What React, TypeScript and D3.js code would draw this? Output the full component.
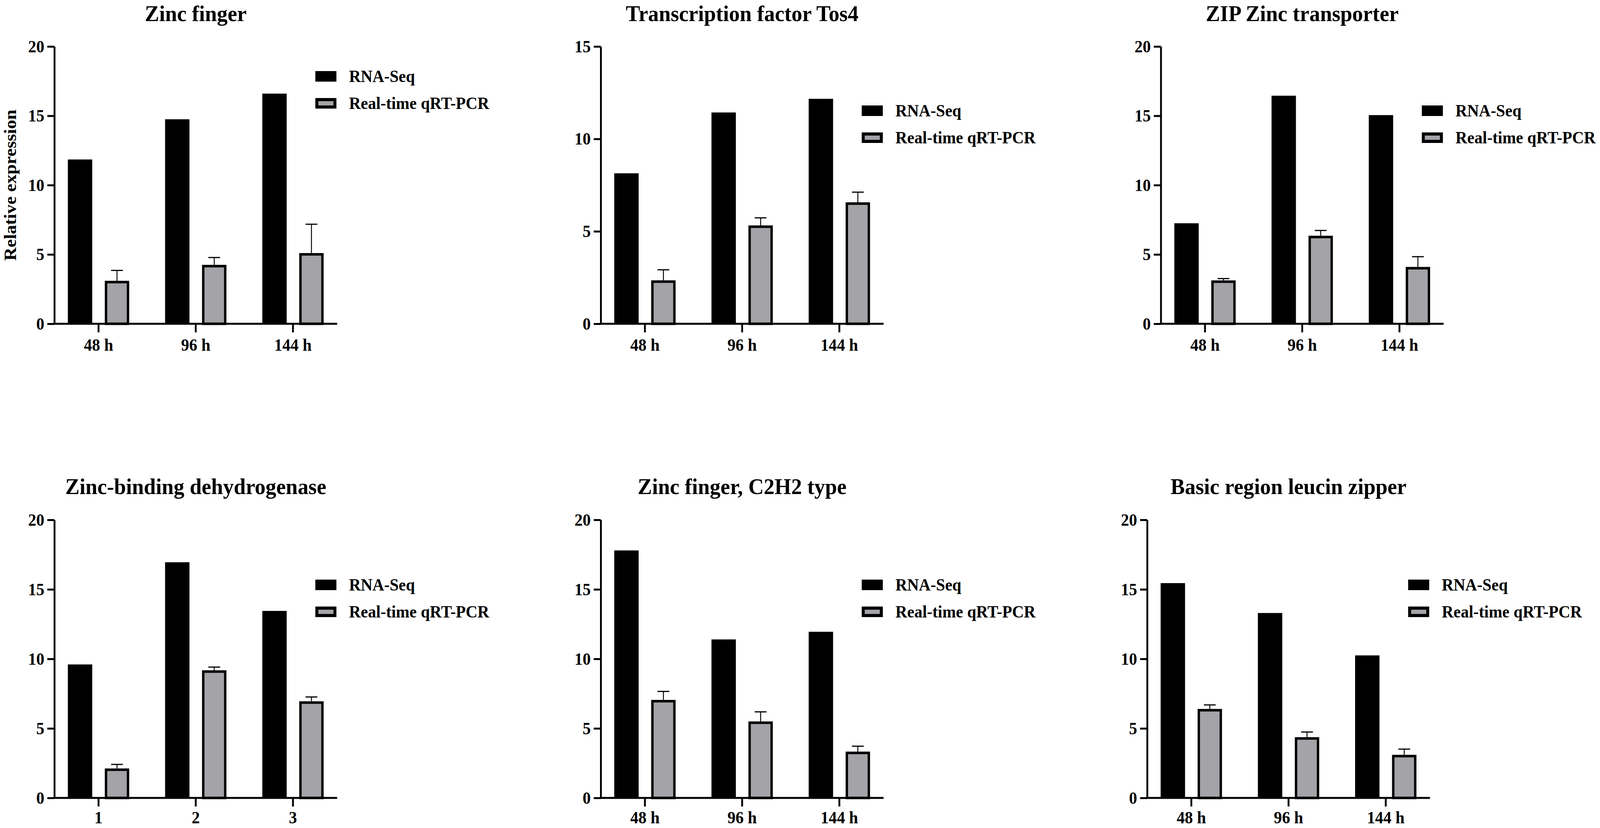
import React, { useEffect, useRef } from 'react';
import * as d3 from 'd3';

// chart values
const titles = [
  'Zinc finger',
  'Transcription factor Tos4',
  'ZIP Zinc transporter',
  'Zinc-binding dehydrogenase',
  'Zinc finger, C2H2 type',
  'Basic region leucin zipper',
];
const timeLabels = ['48 h', '96 h', '144 h'];
const stageLabels = ['1', '2', '3'];
const categoryLabels = [timeLabels, timeLabels, timeLabels, stageLabels, timeLabels, timeLabels];
const seriesNames = ['RNA-Seq', 'Real-time qRT-PCR'];
const rnaSeq = [
  [11.85, 14.75, 16.6],
  [8.14, 11.43, 12.17],
  [7.25, 16.45, 15.05],
  [9.6, 16.95, 13.45],
  [17.8, 11.4, 11.95],
  [15.45, 13.3, 10.25],
];
const qpcr = [
  [3.1, 4.25, 5.1],
  [2.35, 5.32, 6.57],
  [3.13, 6.35, 4.1],
  [2.12, 9.18, 6.95],
  [7.05, 5.5, 3.33],
  [6.4, 4.37, 3.1],
];
const qpcrSd = [
  [0.75, 0.53, 2.08],
  [0.57, 0.41, 0.55],
  [0.13, 0.38, 0.74],
  [0.29, 0.23, 0.31],
  [0.61, 0.69, 0.39],
  [0.29, 0.37, 0.41],
];
const yMax = [20, 15, 20, 20, 20, 20];
const yAxisTitle = 'Relative expression';

// layout (drawn in a 4328 x 2120 box, stretched to the window)
const VW = 4328;
const VH = 2120;
const panelLeft = [147, 1625, 3140, 147, 1625, 3103];
const rowBase = [829, 2043];
const rowTop = [119, 1331];
const titleY = [54, 1265];
const legendTop = [182, 270, 270, 1484, 1484, 1484];
const plotW = 765;
const FONT = "'Liberation Serif', 'Times New Roman', serif";
const GRAY = '#a3a3a8';

export default function App() {
  const svgRef = useRef<SVGSVGElement>(null);

  useEffect(() => {
    if (!svgRef.current) return;
    const svg = d3.select(svgRef.current);
    svg.selectAll('*').remove();

    svg.append('rect').attr('width', VW).attr('height', VH).attr('fill', '#fff');

    titles.forEach((title, p) => {
      const row = p < 3 ? 0 : 1;
      const g = svg.append('g').attr('transform', `translate(${panelLeft[p]},0)`);
      const cats = categoryLabels[p];

      const y = d3.scaleLinear().domain([0, yMax[p]]).range([rowBase[row], rowTop[row]]);
      const x0 = d3.scaleBand().domain(cats).range([0, plotW]).paddingInner(0.369).paddingOuter(0.139);
      const x1 = d3.scaleBand().domain(seriesNames).range([0, x0.bandwidth()]).paddingInner(0.34);

      // title
      g.append('text')
        .attr('x', plotW / 2)
        .attr('y', titleY[row])
        .attr('text-anchor', 'middle')
        .attr('font-family', FONT)
        .attr('font-weight', 'bold')
        .attr('font-size', 58)
        .text(title);

      // bars
      const sw = 6.5;
      cats.forEach((c, i) => {
        const gx = x0(c)!;
        g.append('rect')
          .attr('x', gx + x1(seriesNames[0])!)
          .attr('y', y(rnaSeq[p][i]))
          .attr('width', x1.bandwidth())
          .attr('height', y(0) - y(rnaSeq[p][i]))
          .attr('fill', '#000');

        const qx = gx + x1(seriesNames[1])!;
        g.append('rect')
          .attr('x', qx + sw / 2)
          .attr('y', y(qpcr[p][i]) + sw / 2)
          .attr('width', x1.bandwidth() - sw)
          .attr('height', y(0) - y(qpcr[p][i]) - sw / 2)
          .attr('fill', GRAY)
          .attr('stroke', '#000')
          .attr('stroke-width', sw);

        // upper error bar
        const cx = qx + x1.bandwidth() / 2;
        const top = y(qpcr[p][i] + qpcrSd[p][i]);
        g.append('line')
          .attr('x1', cx).attr('x2', cx)
          .attr('y1', y(qpcr[p][i])).attr('y2', top)
          .attr('stroke', '#000').attr('stroke-width', 2.5);
        g.append('line')
          .attr('x1', cx - 16).attr('x2', cx + 16)
          .attr('y1', top).attr('y2', top)
          .attr('stroke', '#000').attr('stroke-width', 3);
      });

      // y axis
      const yAxis = g.append('g')
        .call(d3.axisLeft(y).tickValues(d3.range(0, yMax[p] + 1, 5)).tickSize(19).tickSizeOuter(0).tickPadding(8));
      // x axis
      const xAxis = g.append('g')
        .attr('transform', `translate(0,${rowBase[row]})`)
        .call(d3.axisBottom(x0).tickSize(22).tickSizeOuter(0).tickPadding(row === 0 ? 16 : 12));

      [yAxis, xAxis].forEach(ax => {
        ax.select('.domain').attr('stroke', '#000').attr('stroke-width', 5);
        ax.selectAll('.tick line').attr('stroke', '#000').attr('stroke-width', 5);
        ax.selectAll('.tick text')
          .attr('fill', '#000')
          .attr('font-family', FONT)
          .attr('font-weight', 'bold')
          .attr('font-size', 44);
      });
      xAxis.select('.domain').attr('d', `M-2.5,0H${plotW}`);

      // legend
      const lx = plotW - 59;
      seriesNames.forEach((name, k) => {
        const ly = legendTop[p] + k * 69;
        if (k === 0) {
          g.append('rect').attr('x', lx).attr('y', ly).attr('width', 57).attr('height', 27).attr('fill', '#000');
        } else {
          g.append('rect').attr('x', lx + 4).attr('y', ly + 4).attr('width', 49).attr('height', 19)
            .attr('fill', GRAY).attr('stroke', '#000').attr('stroke-width', 8);
        }
        g.append('text')
          .attr('x', lx + 57 + 34)
          .attr('y', ly + 28)
          .attr('font-family', FONT)
          .attr('font-weight', 'bold')
          .attr('font-size', 44)
          .text(name);
      });

      if (p === 0) {
        g.append('text')
          .attr('transform', `translate(${43 - panelLeft[p]},${(rowBase[0] + rowTop[0]) / 2}) rotate(-90)`)
          .attr('text-anchor', 'middle')
          .attr('font-family', FONT)
          .attr('font-weight', 'bold')
          .attr('font-size', 47)
          .text(yAxisTitle);
      }
    });
  }, []);

  return (
    <svg
      ref={svgRef}
      viewBox={`0 0 ${VW} ${VH}`}
      preserveAspectRatio="none"
      style={{ position: 'absolute', left: 0, top: 0, width: '100vw', height: '100vh', display: 'block' }}
    />
  );
}
